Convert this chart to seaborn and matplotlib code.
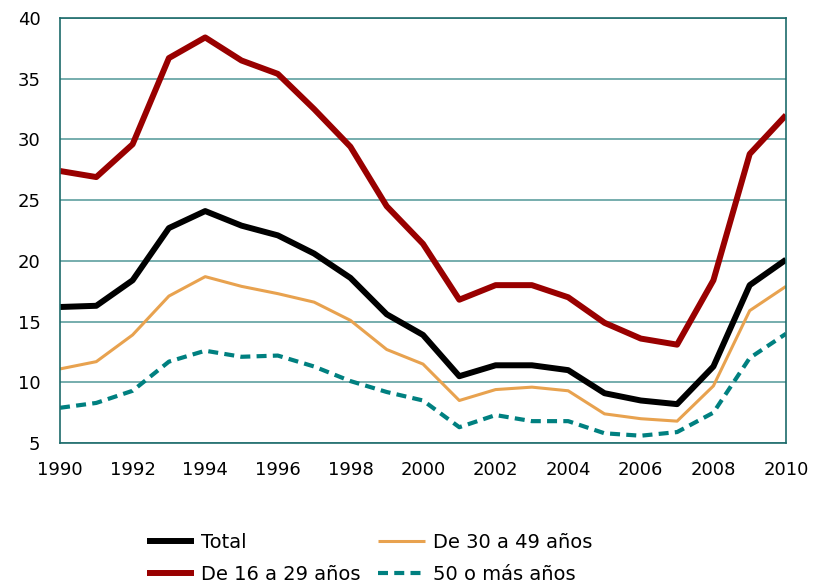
import numpy as np
import pandas as pd
import seaborn as sns
import matplotlib.pyplot as plt

years = list(range(1990, 2011))
total = [16.2, 16.3, 18.4, 22.7, 24.1, 22.9, 22.1, 20.6, 18.6, 15.6, 13.9,
         10.5, 11.4, 11.4, 11.0, 9.1, 8.5, 8.2, 11.3, 18.0, 20.1]
de_16_29 = [27.4, 26.9, 29.6, 36.7, 38.4, 36.5, 35.4, 32.5, 29.4, 24.5, 21.4,
            16.8, 18.0, 18.0, 17.0, 14.9, 13.6, 13.1, 18.4, 28.8, 32.0]
de_30_49 = [11.1, 11.7, 13.9, 17.1, 18.7, 17.9, 17.3, 16.6, 15.1, 12.7, 11.5,
            8.5, 9.4, 9.6, 9.3, 7.4, 7.0, 6.8, 9.7, 15.9, 17.9]
mas_50 = [7.9, 8.3, 9.3, 11.7, 12.6, 12.1, 12.2, 11.3, 10.1, 9.2, 8.5,
          6.3, 7.3, 6.8, 6.8, 5.8, 5.6, 5.9, 7.5, 12.0, 14.0]

series = {
    "Total": total,
    "De 16 a 29 años": de_16_29,
    "De 30 a 49 años": de_30_49,
    "50 o más años": mas_50,
}
df = pd.DataFrame({"year": years, **series})

# estilo de cada serie
estilos = {
    "Total": dict(color="#000000", lw=4.3),
    "De 16 a 29 años": dict(color="#990000", lw=4.3),
    "De 30 a 49 años": dict(color="#E8A24F", lw=2.2),
    "50 o más años": dict(color="#008080", lw=3.0, dashes=(2.4, 1.5)),
}

sns.set_style("white")
plt.rcParams['font.family'] = ['DejaVu Sans']
plt.rcParams['text.color'] = "#000000"

fig = plt.figure(figsize=(8.2, 5.87), dpi=100)
ax = fig.add_axes([60 / 820, 1 - 443 / 587, (786 - 60) / 820, (443 - 18) / 587])

handles = []
for name, st in estilos.items():
    sns.lineplot(data=df, x="year", y=name, ax=ax, color=st["color"],
                 linewidth=st["lw"], label=name, legend=False)
    line = ax.lines[-1]
    line.set_solid_capstyle("butt")
    if "dashes" in st:
        line.set_dashes(st["dashes"])
    handles.append(line)

ax.set_xlim(1990, 2010)
ax.set_ylim(5, 40)
ax.set_xticks(range(1990, 2011, 2))
ax.set_yticks(range(5, 41, 5))
ax.set_xlabel("")
ax.set_ylabel("")
ax.yaxis.grid(True, color="#5f9f9f", linewidth=1.2)
ax.xaxis.grid(False)
ax.set_axisbelow(True)
for sp in ax.spines.values():
    sp.set_color("#1d6b6b")
    sp.set_linewidth(1.2)
ax.tick_params(axis="both", length=0, labelsize=13, colors="#000000")
ax.tick_params(axis="y", pad=14)
ax.tick_params(axis="x", pad=13)

fig.legend(handles=handles, labels=list(series.keys()), ncol=2,
           loc="upper left", bbox_to_anchor=(147 / 820, 1 - 533 / 587),
           frameon=False, fontsize=14, borderpad=0, borderaxespad=0,
           handlelength=2.4, handletextpad=0.4, columnspacing=0.9,
           labelspacing=0.65)

fig.savefig("out.png", dpi=100)
